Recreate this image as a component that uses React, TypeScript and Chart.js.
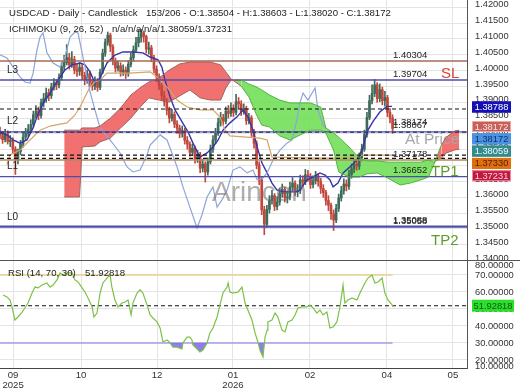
import { useEffect, useRef } from 'react';
import { Chart, registerables } from 'chart.js';
Chart.register(...registerables);

const FONT = '"Liberation Sans", Arial, sans-serif';

// ---------- data ----------
const openP = [
  1.3810,1.3795,1.3782,1.3801,1.3776,1.3780,1.3752,1.3718,1.3745,1.3768,
  1.3790,1.3802,1.3815,1.3830,1.3861,1.3872,1.3858,1.3898,1.3912,1.3930,
  1.3921,1.3948,1.3962,1.3955,1.3978,1.4012,1.4025,1.4041,1.4018,1.4035,
  1.4002,1.3998,1.4010,1.3985,1.3972,1.3990,1.3962,1.3951,1.3968,1.3947,
  1.3995,1.4055,1.4090,1.4112,1.4075,1.4030,1.4008,1.4015,1.3995,1.4002,
  1.3990,1.4020,1.4041,1.4065,1.4088,1.4105,1.4120,1.4108,1.4068,1.4072,
  1.4040,1.4005,1.3980,1.3952,1.3921,1.3902,1.3875,1.3850,1.3862,1.3831,
  1.3818,1.3802,1.3811,1.3780,1.3768,1.3742,1.3755,1.3721,1.3735,1.3692,
  1.3705,1.3680,1.3712,1.3752,1.3781,1.3802,1.3835,1.3851,1.3840,1.3872,
  1.3865,1.3882,1.3868,1.3902,1.3895,1.3870,1.3881,1.3842,1.3851,1.3805,
  1.3770,1.3702,1.3655,1.3560,1.3515,1.3562,1.3590,1.3605,1.3571,1.3585,
  1.3612,1.3625,1.3598,1.3601,1.3632,1.3645,1.3618,1.3622,1.3655,1.3648,
  1.3671,1.3665,1.3640,1.3652,1.3668,1.3650,1.3628,1.3615,1.3590,1.3575,
  1.3548,1.3528,1.3565,1.3598,1.3621,1.3642,1.3635,1.3672,1.3690,1.3705,
  1.3698,1.3725,1.3752,1.3798,1.3852,1.3905,1.3928,1.3955,1.3912,1.3940,
  1.3905,1.3915,1.3868,1.38504,
];
const highP = [
  1.3822,1.3808,1.3815,1.3810,1.3795,1.3788,1.3760,1.3752,1.3780,1.3802,
  1.3818,1.3830,1.3845,1.3872,1.3890,1.3885,1.3910,1.3928,1.3945,1.3942,
  1.3960,1.3975,1.3972,1.3990,1.4025,1.4048,1.4082,1.4055,1.4060,1.4045,
  1.4020,1.4025,1.4018,1.3995,1.4002,1.3998,1.3972,1.3980,1.3975,1.4005,
  1.4068,1.4100,1.4122,1.4118,1.4082,1.4040,1.4030,1.4025,1.4018,1.4012,
  1.4032,1.4055,1.4078,1.4105,1.4128,1.4130,1.4125,1.4112,1.4090,1.4080,
  1.4048,1.4015,1.3990,1.3960,1.3935,1.3912,1.3885,1.3878,1.3870,1.3842,
  1.3828,1.3825,1.3818,1.3792,1.3775,1.3768,1.3762,1.3748,1.3742,1.3720,
  1.3712,1.3725,1.3765,1.3795,1.3818,1.3850,1.3868,1.3862,1.3885,1.3890,
  1.3898,1.3892,1.3925,1.3915,1.3905,1.3895,1.3888,1.3865,1.3858,1.3815,
  1.3778,1.3712,1.3665,1.3572,1.3575,1.3605,1.3622,1.3612,1.3602,1.3628,
  1.3642,1.3632,1.3620,1.3648,1.3662,1.3652,1.3640,1.3670,1.3668,1.3688,
  1.3685,1.3675,1.3668,1.3682,1.3675,1.3660,1.3640,1.3622,1.3605,1.3582,
  1.3560,1.3578,1.3610,1.3635,1.3658,1.3655,1.3685,1.3705,1.3720,1.3718,
  1.3740,1.3768,1.3812,1.3868,1.3922,1.3955,1.3972,1.3962,1.3958,1.3948,
  1.3935,1.3922,1.3880,1.38603,
];
const lowP = [
  1.3785,1.3770,1.3775,1.3768,1.3760,1.3740,1.3672,1.3705,1.3735,1.3758,
  1.3781,1.3792,1.3805,1.3822,1.3850,1.3845,1.3850,1.3885,1.3900,1.3905,
  1.3912,1.3938,1.3940,1.3945,1.3970,1.4000,1.4018,1.4005,1.4010,1.3990,
  1.3982,1.3985,1.3972,1.3955,1.3960,1.3950,1.3938,1.3940,1.3935,1.3940,
  1.3990,1.4045,1.4080,1.4060,1.4018,1.3995,1.3998,1.3982,1.3985,1.3975,
  1.3982,1.4012,1.4030,1.4058,1.4075,1.4090,1.4090,1.4055,1.4052,1.4028,
  1.3992,1.3965,1.3940,1.3905,1.3888,1.3860,1.3835,1.3840,1.3820,1.3802,
  1.3788,1.3790,1.3768,1.3752,1.3730,1.3732,1.3708,1.3710,1.3678,1.3680,
  1.3648,1.3670,1.3705,1.3742,1.3770,1.3795,1.3825,1.3828,1.3832,1.3850,
  1.3855,1.3855,1.3860,1.3880,1.3858,1.3862,1.3830,1.3832,1.3792,1.3755,
  1.3690,1.3640,1.3545,1.3482,1.3505,1.3550,1.3578,1.3558,1.3560,1.3575,
  1.3600,1.3585,1.3582,1.3592,1.3620,1.3605,1.3602,1.3612,1.3632,1.3640,
  1.3650,1.3628,1.3630,1.3642,1.3635,1.3612,1.3600,1.3575,1.3558,1.3530,
  1.3495,1.3520,1.3555,1.3588,1.3610,1.3620,1.3625,1.3660,1.3678,1.3685,
  1.3688,1.3715,1.3745,1.3790,1.3845,1.3895,1.3918,1.3900,1.3902,1.3892,
  1.3888,1.3855,1.3835,1.38020,
];
const closeP = [
  1.3795,1.3782,1.3801,1.3776,1.3780,1.3752,1.3718,1.3745,1.3768,1.3790,
  1.3802,1.3815,1.3830,1.3861,1.3872,1.3858,1.3898,1.3912,1.3930,1.3921,
  1.3948,1.3962,1.3955,1.3978,1.4012,1.4025,1.4041,1.4018,1.4035,1.4002,
  1.3998,1.4010,1.3985,1.3972,1.3990,1.3962,1.3951,1.3968,1.3947,1.3995,
  1.4055,1.4090,1.4112,1.4075,1.4030,1.4008,1.4015,1.3995,1.4002,1.3990,
  1.4020,1.4041,1.4065,1.4088,1.4105,1.4120,1.4108,1.4068,1.4072,1.4040,
  1.4005,1.3980,1.3952,1.3921,1.3902,1.3875,1.3850,1.3862,1.3831,1.3818,
  1.3802,1.3811,1.3780,1.3768,1.3742,1.3755,1.3721,1.3735,1.3692,1.3705,
  1.3680,1.3712,1.3752,1.3781,1.3802,1.3835,1.3851,1.3840,1.3872,1.3865,
  1.3882,1.3868,1.3902,1.3895,1.3870,1.3881,1.3842,1.3851,1.3805,1.3770,
  1.3702,1.3655,1.3560,1.3515,1.3562,1.3590,1.3605,1.3571,1.3585,1.3612,
  1.3625,1.3598,1.3601,1.3632,1.3645,1.3618,1.3622,1.3655,1.3648,1.3671,
  1.3665,1.3640,1.3652,1.3668,1.3650,1.3628,1.3615,1.3590,1.3575,1.3548,
  1.3528,1.3565,1.3598,1.3621,1.3642,1.3635,1.3672,1.3690,1.3705,1.3698,
  1.3725,1.3752,1.3798,1.3852,1.3905,1.3928,1.3955,1.3912,1.3940,1.3905,
  1.3915,1.3868,1.3850,1.38172,
];

// Ichimoku cloud (bar, value)
const cloudBars = [25,31,32,37,39,43,47,51,55,58,62,66,70,74,78,82,86,88,90,94,97,100,102,105,109,113,117,121,125,127,130,132,136,140,143,147,151,156,160,164,167,169,172,174,177,179];
const spanA = [1.3601,1.3601,1.3759,1.3762,1.3775,1.3787,1.3819,1.3850,1.3888,1.3914,1.3907,1.3901,1.3920,1.3939,1.3914,1.3907,1.3907,1.3945,1.3970,1.3970,1.3958,1.3948,1.3939,1.3923,1.3907,1.3898,1.3898,1.3898,1.3885,1.3819,1.3803,1.3790,1.3759,1.3724,1.3715,1.3715,1.3711,1.3711,1.3711,1.3711,1.3718,1.3711,1.3724,1.3740,1.3749,1.3752];
const spanB = [1.3812,1.3812,1.3819,1.3819,1.3825,1.3850,1.3882,1.3923,1.3948,1.3964,1.3977,1.4002,1.4021,1.4027,1.4027,1.4027,1.4018,1.3996,1.3974,1.3951,1.3917,1.3860,1.3828,1.3822,1.3794,1.3781,1.3797,1.3812,1.3812,1.3803,1.3749,1.3680,1.3664,1.3664,1.3674,1.3677,1.3661,1.3639,1.3645,1.3655,1.3664,1.3702,1.3765,1.3790,1.3809,1.3812];

const tenkan: number[][] = [[0,1.3803],[2.7,1.3797],[5.1,1.3781],[7.8,1.3771],[10.5,1.3781],[12.9,1.3819],[14.4,1.3854],[16.8,1.3898],[19.5,1.3929],[22.6,1.3970],[25.3,1.4002],[28.1,1.4018],[31.2,1.4024],[33.1,1.4018],[35.1,1.3996],[37,1.3961],[39,1.3977],[41.7,1.4024],[44.8,1.4049],[47.9,1.4059],[51.8,1.4059],[55.7,1.4056],[58.5,1.4043],[61.6,1.4034],[63.1,1.4011],[64.3,1.3970],[66.3,1.3917],[68.2,1.3876],[70.1,1.3850],[73.3,1.3806],[75.2,1.3771],[77.9,1.3727],[80.7,1.3740],[83,1.3759],[85,1.3781],[86.9,1.3812],[89.6,1.3835],[92.4,1.3854],[94.7,1.3876],[96.6,1.3854],[98.6,1.3812],[100.2,1.3759],[102.1,1.3708],[104.1,1.3677],[106,1.3645],[107.9,1.3623],[110.3,1.3617],[115.7,1.3617],[116.9,1.3623],[119.6,1.3655],[122,1.3664],[124.7,1.3677],[126.7,1.3670],[128.6,1.3655],[129.8,1.3633],[131.7,1.3645],[133.7,1.3677],[136.4,1.3696],[139.1,1.3718],[141.1,1.3749],[142.2,1.3781],[143.4,1.3812],[145.4,1.3840],[148.1,1.3870],[150.8,1.3887],[152.8,1.3887]];
const kijun: number[][] = [[2.7,1.3703],[3.9,1.3734],[7.8,1.3749],[11.7,1.3781],[15.6,1.3812],[19.5,1.3825],[23.4,1.3831],[26.1,1.3835],[29.2,1.3860],[31.2,1.3885],[33.1,1.3917],[35.1,1.3948],[37,1.3964],[39,1.3970],[41.7,1.3992],[50.7,1.3992],[58.5,1.3996],[61.2,1.3980],[65.1,1.3948],[69,1.3907],[72.9,1.3885],[77.9,1.3876],[83,1.3876],[85.7,1.3854],[87.7,1.3812],[89.6,1.3794],[101.3,1.3787],[104.1,1.3781],[106,1.3727],[124.7,1.3724],[134.4,1.3724],[140.3,1.3733],[152.8,1.3733]];
const chikou: number[][] = [[0,1.4050],[2.7,1.4040],[5.1,1.4011],[7.8,1.3980],[9.7,1.3964],[11.7,1.3961],[12.9,1.3992],[14.4,1.4065],[15.6,1.4106],[16.8,1.4119],[18.3,1.4056],[20.7,1.4024],[23.4,1.4011],[25.3,1.4043],[27.3,1.4106],[29.2,1.4122],[30.4,1.4119],[32,1.4056],[33.9,1.3980],[35.1,1.3933],[37,1.3876],[39,1.3819],[42.9,1.3781],[46.8,1.3740],[49.5,1.3696],[51.8,1.3680],[54.6,1.3686],[57.3,1.3734],[58.5,1.3765],[60.4,1.3781],[62.4,1.3797],[65.1,1.3781],[69,1.3696],[71.3,1.3633],[74,1.3569],[76,1.3522],[76.8,1.3503],[78.7,1.3544],[80.7,1.3601],[83,1.3633],[84.6,1.3569],[86.5,1.3592],[88.5,1.3623],[90.8,1.3686],[93.5,1.3696],[96.3,1.3677],[98.6,1.3686],[100.2,1.3655],[102.5,1.3661],[104.1,1.3677],[106.4,1.3718],[109.1,1.3749],[111.8,1.3771],[113.8,1.3781],[115.7,1.3844],[116.9,1.3898],[118.1,1.3929],[120,1.3907],[122.8,1.3945],[123.9,1.3876],[125.9,1.3828],[127,1.3817]];

const rsi: number[][] = [[1.2,58.2],[2.7,57.1],[3.9,55.3],[4.7,51.2],[5.8,43.5],[7,45.3],[8.6,48.2],[9.7,50.6],[10.9,53.5],[12.5,59.4],[13.6,62.9],[14.8,62.4],[16.4,64.1],[18.3,65.3],[19.5,62.9],[20.7,64.1],[22.2,67.1],[23.4,71.2],[24.6,70],[26.1,71.2],[28.1,71.2],[29.2,67.1],[30.4,65.9],[32,62.4],[33.1,60],[34.3,56.5],[35.9,51.2],[36.6,45.3],[37.8,47.6],[39,59.4],[40.1,65.3],[41.7,68.2],[42.9,70],[43.6,62.9],[44.8,55.3],[46,51.2],[47.5,53.5],[48.7,54.1],[49.9,55.3],[51.1,46.5],[51.8,53.5],[53.4,59.4],[54.6,61.2],[55.7,59.4],[57.3,52.4],[58.5,46.5],[59.6,44.7],[61.2,42.4],[62.4,38.8],[63.5,30.6],[65.1,31.8],[66.3,30],[67.4,27.6],[69,27.6],[70.9,26.5],[71.3,30],[72.9,33.5],[74,33.5],[74.8,31.8],[75.2,28.8],[76.8,26.5],[77.9,24.7],[79.1,25.9],[80.7,30],[81.8,35.9],[83,38.8],[84.6,45.3],[85.7,52.4],[86.9,59.4],[88.5,62.9],[88.9,65.3],[89.6,60],[90.8,59.4],[92.8,60],[94.3,62.9],[95.5,53.5],[96.6,49.4],[98.2,43.5],[99.4,35.9],[100.5,30.6],[101.3,25.9],[102.5,21.8],[103.3,33.5],[104.1,37.6],[104.4,42.4],[106,43.5],[107.2,47.6],[108.3,45.3],[109.9,37.6],[111.1,36.5],[112.2,42.4],[113.8,43.5],[115,46.5],[116.1,50.6],[117.7,51.2],[119.6,51.2],[120.8,52.4],[122,50.6],[123.5,47.6],[124.7,49.4],[125.9,46.5],[127.4,48.2],[128.6,38.8],[129.8,39.4],[131.3,42.4],[132.5,51.2],[133.7,64.1],[134.4,53.5],[135.6,55.3],[137.2,56.5],[139.1,55.3],[140.3,59.4],[142.2,65.3],[143.4,68.2],[145,70],[146.1,65.3],[147.3,65.9],[148.9,68.2],[150,59.4],[151.2,55.3],[152.8,52.4],[153,51.92818]];
const rsiLast = 51.92818;

const priceTicks = [1.34,1.345,1.35,1.355,1.36,1.365,1.37,1.375,1.38,1.385,1.39,1.395,1.40,1.405,1.41,1.415,1.42];
const rsiTicks = [20,30,40,50,60,70];
const monthBars = [5.1,31.6,61.2,90.8,120.8,150.8,176.5];
const monthLabels: (string | string[])[] = [['09','2025'],'10','12',['01','2026'],'02','04','05'];

const levelPrices = [1.40304,1.39704,1.38788,1.38067,1.38059,1.37330,1.37231,1.37178,1.36652,1.35088,1.35058];
const levelColors = ['#a56b55','#4e4ea8','#111111','#4e4ea8','#111111','#111111','#111111','#b08a5c','#4e4ea8','#4e4ea8','#4e4ea8'];
const levelDashed = [false,false,true,false,true,true,true,false,false,false,false];
const levelTagTexts = ['1.40304','1.39704','1.38174','1.38067','1.37178','1.36652','1.35058','1.35088'];
const levelTagPrices = [1.40304,1.39704,1.38174,1.38067,1.37178,1.36652,1.35058,1.35088];

const boxPrices = [1.38788,1.38172,1.38172,1.38059,1.37330,1.37231];
const boxFill = ['#1410b4','#c4625a','#4b93e2','#358a8c','#e0700f','#c0183e'];
const boxBorder = ['#1410b4','#f4a6a6','#4b93e2','#358a8c','#e0700f','#f08aa0'];
const boxText = ['#ffffff','#ffe0e0','#10306a','#e8ffff','#5a2000','#ffd0dc'];

const X_MIN = 0, X_MAX = 182;
const UP = '#3e6b5a', DOWN = '#c2473c';

const pts = (arr: number[][]) => arr.map(([x, y]) => ({ x, y }));

function text(ctx: CanvasRenderingContext2D, s: string, x: number, y: number, size: number, color: string, align: CanvasTextAlign = 'left') {
  ctx.save();
  ctx.font = `${size}px ${FONT}`;
  ctx.fillStyle = color;
  ctx.textAlign = align;
  ctx.textBaseline = 'middle';
  ctx.fillText(s, x, y);
  ctx.restore();
}

function topConfig(): any {
  const idx = closeP.map((_, i) => i);
  const colors = idx.map(i => (closeP[i] >= openP[i] ? UP : DOWN));
  const cloudA = cloudBars.map((b, i) => ({ x: b, y: spanA[i] }));
  const cloudB = cloudBars.map((b, i) => ({ x: b, y: spanB[i] }));
  const segColor = (ctx: any) => (spanB[ctx.p0DataIndex] > spanA[ctx.p0DataIndex] ? '#a3605a' : '#4fb43c');
  const line = (data: any[], color: string, width: number, extra: any = {}) => ({
    type: 'line', data, borderColor: color, borderWidth: width, pointRadius: 0, fill: false, tension: 0, ...extra,
  });

  const datasets: any[] = [
    line(cloudA, '#4fb43c', 1, { fill: { target: 1, above: 'rgba(112,222,84,0.88)', below: 'rgba(240,98,96,0.9)' }, segment: { borderColor: segColor } }),
    line(cloudB, '#a3605a', 1, { segment: { borderColor: segColor } }),
  ];
  levelPrices.forEach((p, i) => {
    datasets.push(line([{ x: X_MIN, y: p }, { x: X_MAX, y: p }], levelColors[i], levelDashed[i] ? 1.2 : 1.4, levelDashed[i] ? { borderDash: [4, 3] } : {}));
  });
  datasets.push(line(pts(chikou), '#8ea4da', 1.2));
  datasets.push(line(pts(kijun), '#d7a565', 1.2));
  datasets.push(line(pts(tenkan), '#3834a8', 1.4));
  datasets.push({
    type: 'bar', data: idx.map(i => ({ x: i, y: [lowP[i], highP[i]] })), backgroundColor: colors,
    barThickness: 1, grouped: false, borderWidth: 0,
  });
  datasets.push({
    type: 'bar', data: idx.map(i => ({ x: i, y: [openP[i], closeP[i]] })), backgroundColor: colors,
    barThickness: 2, grouped: false, borderWidth: 0, minBarLength: 1,
  });

  const overlay = {
    id: 'overlayTop',
    beforeDatasetsDraw(chart: any) {
      const ctx = chart.ctx as CanvasRenderingContext2D;
      const y = chart.scales.y;
      const py = (p: number) => y.getPixelForValue(p);
      text(ctx, 'At Price', 405, py(1.38174) + 11, 15.5, '#a8a8a8');
    },
    afterDatasetsDraw(chart: any) {
      const ctx = chart.ctx as CanvasRenderingContext2D;
      const y = chart.scales.y;
      const py = (p: number) => y.getPixelForValue(p);
      // level tags
      levelTagTexts.forEach((t, i) => text(ctx, t, 393, py(levelTagPrices[i]) - 6, 9.5, '#222'));
      text(ctx, 'L3', 7, py(1.39704) - 10, 10, '#222');
      text(ctx, 'L2', 7, py(1.38067) - 11, 10, '#222');
      text(ctx, 'L1', 7, py(1.36652) - 10, 10, '#222');
      text(ctx, 'L0', 7, py(1.35058) - 10, 10, '#222');
      text(ctx, 'SL', 441, py(1.39704) - 6.5, 15, '#d9423a');
      text(ctx, 'TP1', 431, py(1.36652) - 5, 15, '#5c9c2c');
      text(ctx, 'TP2', 431, py(1.35058) + 14, 15, '#5c9c2c');
      // watermark
      ctx.save();
      ctx.globalAlpha = 0.55;
      text(ctx, 'Arincen', 212, 193, 28, '#6b6b6b');
      ctx.restore();
      // title
      text(ctx, 'USDCAD - Daily - Candlestick', 9, 13, 9.6, '#222');
      text(ctx, '153/206 - O:1.38504 - H:1.38603 - L:1.38020 - C:1.38172', 146, 13, 9.6, '#222');
      text(ctx, 'ICHIMOKU (9, 26, 52)', 9, 29, 9.6, '#222');
      text(ctx, 'n/a/n/a/n/a/1.38059/1.37231', 112, 29, 9.6, '#222');
    },
    afterDraw(chart: any) {
      const ctx = chart.ctx as CanvasRenderingContext2D;
      const y = chart.scales.y;
      let prev = -Infinity;
      boxPrices.forEach((p, i) => {
        let cy = y.getPixelForValue(p) - 2;
        if (cy < prev + 12.3) cy = prev + 12.3;
        prev = cy;
        ctx.save();
        ctx.fillStyle = boxFill[i];
        ctx.fillRect(472, cy - 5.5, 39, 11);
        ctx.strokeStyle = boxBorder[i];
        ctx.lineWidth = 1;
        ctx.strokeRect(472.5, cy - 5, 38, 10);
        ctx.restore();
        text(ctx, p.toFixed(5), 491.5, cy + 0.5, 9.3, boxText[i], 'center');
      });
    },
  };

  return {
    type: 'line',
    data: { datasets },
    options: {
      responsive: false,
      animation: false,
      events: [],
      layout: { padding: 0 },
      plugins: { legend: { display: false }, tooltip: { enabled: false }, filler: { drawTime: 'beforeDatasetsDraw' } },
      scales: {
        x: {
          type: 'linear', min: X_MIN, max: X_MAX, offset: false,
          afterBuildTicks: (s: any) => { s.ticks = monthBars.map(v => ({ value: v })); },
          afterFit: (s: any) => { s.height = 0; s.paddingLeft = 0; s.paddingRight = 0; },
          ticks: { display: false },
          grid: { color: '#e4e4e4', drawTicks: false, offset: false },
          border: { display: false },
        },
        y: {
          type: 'linear', position: 'right', min: 1.3402, max: 1.4223,
          afterBuildTicks: (s: any) => { s.ticks = priceTicks.map(v => ({ value: v })); },
          afterFit: (s: any) => { s.width = 53; s.paddingTop = 0; s.paddingBottom = 0; },
          ticks: { font: { family: FONT, size: 9.3 }, color: '#333', padding: 8, labelOffset: -2.5, callback: (v: any) => Number(v).toFixed(5) },
          grid: { color: '#e4e4e4', drawTicks: false },
          border: { display: true, color: '#555', width: 1 },
        },
      },
    },
    plugins: [overlay],
  };
}

function botConfig(): any {
  const datasets: any[] = [
    { type: 'line', data: pts(rsi), borderColor: '#7cc246', borderWidth: 1.2, pointRadius: 0, tension: 0,
      fill: { target: { value: 30 }, above: 'rgba(0,0,0,0)', below: 'rgba(132,112,232,0.9)' } },
    { type: 'line', data: [{ x: 0, y: 70 }, { x: 153, y: 70 }], borderColor: '#e8d28c', borderWidth: 1.5, pointRadius: 0, fill: false },
    { type: 'line', data: [{ x: 0, y: 30 }, { x: 153, y: 30 }], borderColor: '#a79ee8', borderWidth: 1.5, pointRadius: 0, fill: false },
    { type: 'line', data: [{ x: X_MIN, y: rsiLast }, { x: X_MAX, y: rsiLast }], borderColor: '#111', borderWidth: 1.1, borderDash: [4, 3], pointRadius: 0, fill: false },
  ];
  const overlay = {
    id: 'overlayBot',
    afterDraw(chart: any) {
      const ctx = chart.ctx as CanvasRenderingContext2D;
      const y = chart.scales.y;
      ctx.save();
      ctx.strokeStyle = '#555';
      ctx.lineWidth = 1;
      ctx.beginPath();
      ctx.moveTo(0, 0.5);
      ctx.lineTo(520, 0.5);
      ctx.stroke();
      ctx.restore();
      text(ctx, 'RSI (14, 70, 30)', 8, 13.5, 9.6, '#222');
      text(ctx, rsiLast.toFixed(5), 85, 13.5, 9.6, '#222');
      text(ctx, '80.00000', 475, 5.5, 9.3, '#333');
      text(ctx, '10.00000', 475, 106, 9.3, '#333');
      const cy = y.getPixelForValue(rsiLast);
      ctx.save();
      ctx.fillStyle = '#27e027';
      ctx.fillRect(472, cy - 6, 42, 12);
      ctx.restore();
      text(ctx, rsiLast.toFixed(5), 493, cy + 0.5, 9.3, '#1d4d1d', 'center');
    },
  };
  return {
    type: 'line',
    data: { datasets },
    options: {
      responsive: false,
      animation: false,
      events: [],
      layout: { padding: 0 },
      plugins: { legend: { display: false }, tooltip: { enabled: false } },
      scales: {
        x: {
          type: 'linear', min: X_MIN, max: X_MAX, offset: false,
          afterBuildTicks: (s: any) => { s.ticks = monthBars.map(v => ({ value: v })); },
          afterFit: (s: any) => { s.height = 22; s.paddingLeft = 0; s.paddingRight = 0; },
          ticks: { autoSkip: false, maxRotation: 0, font: { family: FONT, size: 9.6, lineHeight: 1.08 }, color: '#333', padding: 2,
            callback: (_v: any, i: number) => monthLabels[i] },
          grid: { color: '#e4e4e4', drawTicks: false, offset: false },
          border: { display: true, color: '#444', width: 1 },
        },
        y: {
          type: 'linear', position: 'right', min: 15.29, max: 78.82,
          afterBuildTicks: (s: any) => { s.ticks = rsiTicks.map(v => ({ value: v })); },
          afterFit: (s: any) => { s.width = 53; s.paddingTop = 0; s.paddingBottom = 0; },
          ticks: { font: { family: FONT, size: 9.3 }, color: '#333', padding: 8, callback: (v: any) => Number(v).toFixed(5) },
          grid: { color: '#e4e4e4', drawTicks: false },
          border: { display: true, color: '#555', width: 1 },
        },
      },
    },
    plugins: [overlay],
  };
}

export default function App() {
  const topRef = useRef<HTMLCanvasElement>(null);
  const botRef = useRef<HTMLCanvasElement>(null);
  useEffect(() => {
    const c1 = new Chart(topRef.current as HTMLCanvasElement, topConfig());
    const c2 = new Chart(botRef.current as HTMLCanvasElement, botConfig());
    return () => { c1.destroy(); c2.destroy(); };
  }, []);
  return (
    <div style={{ position: 'fixed', left: 0, top: 0, width: 520, height: 390, background: '#fff' }}>
      <canvas ref={topRef} width={520} height={260} style={{ display: 'block', width: 520, height: 260 }} />
      <canvas ref={botRef} width={520} height={130} style={{ display: 'block', width: 520, height: 130 }} />
    </div>
  );
}
